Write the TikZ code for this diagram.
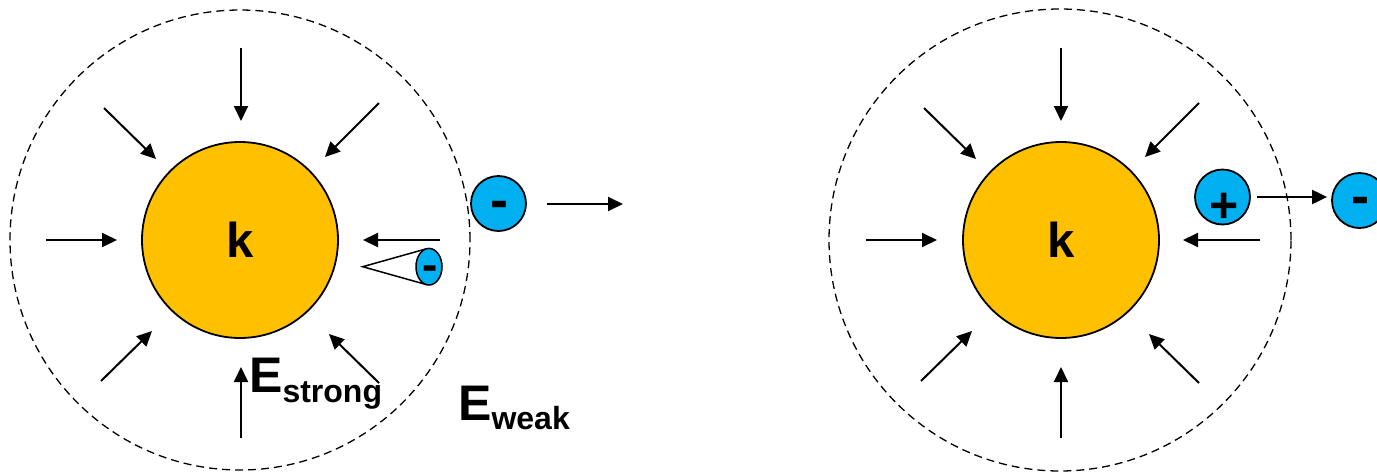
\documentclass[tikz,border=0pt]{standalone}
\usepackage{fontspec}
\setmainfont{Liberation Sans}
\usetikzlibrary{arrows.meta,shapes.geometric}
\definecolor{ionblue}{HTML}{00B0F0}
\definecolor{coreorange}{HTML}{FFC000}
\begin{document}
\begin{tikzpicture}[x=1pt,y=-1pt,
  field/.style={line width=2pt,-{Triangle[length=15pt,width=14pt]}},
  halo/.style={draw,line width=1.3pt,dash pattern=on 8pt off 5pt},
  core/.style={circle,draw,line width=1.8pt,fill=coreorange,minimum size=196pt,inner sep=0pt,font=\bfseries\fontsize{49}{49}\selectfont},
  ion/.style={circle,draw,line width=1.8pt,fill=ionblue,minimum size=55pt,inner sep=0pt},
  sign/.style={inner sep=0pt,font=\bfseries\fontsize{54}{54}\selectfont},
  label/.style={anchor=base west,inner sep=0pt,font=\bfseries\fontsize{50}{50}\selectfont},
]
\useasboundingbox (0,0) rectangle (1377,472);
\clip (0,0) rectangle (1377,472);

% ---------- left panel ----------
\coordinate (cL) at (240,240);
\draw[halo] (cL) circle[radius=230pt];
\node[core] (kL) at (cL) {k};
\draw[field] (241,48) -- (241,121);
\draw[field] (46,240) -- (117,240);
\draw[field] (104,108) -- (156,159);
\draw[field] (379,103) -- (325,157);
\draw[field] (101,381) -- (152,331);
\draw[field] (379,383) -- (329,334);
\draw[field] (241,438) -- (241,367);
\draw[field] (440,240) -- (363,240);

% cone with ion
\coordinate (apex) at (362.7,266.7);
\coordinate (ctop) at (426.4,248.8);
\coordinate (cbot) at (426.4,284.6);
\draw[line width=1.5pt] (ctop) -- (apex) -- (cbot);
\node[ellipse,draw,line width=1.5pt,fill=ionblue,minimum width=26pt,minimum height=36.6pt,inner sep=0pt] (eCone) at (429,266.7) {};
\node[sign,anchor=base,font=\bfseries\fontsize{46}{46}\selectfont] at (430,280) {-};

% escaping ion
\node[ion] (eOut) at (498.5,203.5) {};
\node[sign,anchor=base] at (499,218) {-};
\coordinate (eOutEnd) at (623,204);
\draw[field] (547,204) -- (eOutEnd);

\node[label] (lstrong) at (249,392) {E\raisebox{-10pt}{\fontsize{32}{32}\selectfont strong}};
\node[label] (lweak) at (458,420) {E\raisebox{-9pt}{\fontsize{32}{32}\selectfont weak}};

% ---------- right panel ----------
\coordinate (cR) at (1060,240);
\draw[halo] (cR) circle[radius=231pt];
\node[core] (kR) at (1061,240) {k};
\draw[field] (1061,48) -- (1061,121);
\draw[field] (866,240) -- (937,240);
\draw[field] (924,108) -- (976,159);
\draw[field] (1199,103) -- (1145,157);
\draw[field] (921,381) -- (972,331);
\draw[field] (1199,383) -- (1149,334);
\draw[field] (1061,438) -- (1061,367);
\draw[field] (1260,240) -- (1183,240);

\node[ion] (pR) at (1222.5,197) {};
\node[sign,anchor=base,font=\bfseries\fontsize{50}{50}\selectfont] at (1224,222) {+};
\node[ion] (eR) at (1359.5,200.5) {};
\node[sign,anchor=base] at (1360,214.5) {-};
\draw[field,shorten <=6pt,shorten >=4pt] (pR.east) -- (pR.east -| eR.west);
\end{tikzpicture}
\end{document}
